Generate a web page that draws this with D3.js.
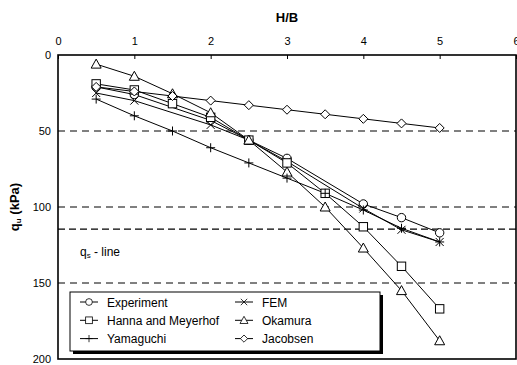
<!DOCTYPE html>
<html>
<head>
<meta charset="utf-8">
<script src="https://cdn.jsdelivr.net/npm/d3@7"></script>
<style>
  body { margin: 0; background: #fff; }
  svg { font-family: "Liberation Sans", Arial, sans-serif; }
  .mark { fill: #fff; stroke: #000; stroke-width: 1; }
  .series { fill: none; stroke: #000; stroke-width: 1; }
</style>
</head>
<body>
<svg width="517" height="365"></svg>
<script>
// H/B values and qu (kPa) for each method
const xExperiment = [0.5, 1, 2, 2.5, 3, 4, 4.5, 5];
const experiment = [21, 26, 43, 56, 68, 98, 107, 117];
const xFem = [0.5, 1, 2, 2.5, 3, 4, 4.5, 5];
const fem = [25, 30, 46, 56, 70, 101, 115, 123];
const xAll = [0.5, 1, 1.5, 2, 2.5, 3, 3.5, 4, 4.5, 5];
const hanna = [19, 23, 32, 41, 56, 71, 91, 113, 139, 167];
const okamura = [6, 14, 25.5, 38, 56, 77, 100, 127, 155, 188];
const yamaguchi = [29, 40, 50, 61, 71, 81, 91, 102, 114, 123];
const jacobsen = [21, 24, 27, 30, 33, 36, 39, 42, 45, 48];

const xTicks = [0, 1, 2, 3, 4, 5, 6];
const yTicks = [0, 50, 100, 150, 200];
const gridLines = [50, 100, 150];
const qsLine = 114.5;

const series = [
  { name: "Experiment", xs: xExperiment, ys: experiment, sym: "circle" },
  { name: "FEM", xs: xFem, ys: fem, sym: "x" },
  { name: "Hanna and Meyerhof", xs: xAll, ys: hanna, sym: "square" },
  { name: "Okamura", xs: xAll, ys: okamura, sym: "triangle" },
  { name: "Yamaguchi", xs: xAll, ys: yamaguchi, sym: "plus" },
  { name: "Jacobsen", xs: xAll, ys: jacobsen, sym: "diamond" }
];

const svg = d3.select("svg");
const plotLeft = 58, plotRight = 516, plotTop = 55, plotBottom = 359;

const x = d3.scaleLinear().domain([0, 6]).range([plotLeft, plotRight]);
const y = d3.scaleLinear().domain([0, 200]).range([plotTop, plotBottom]);

// dashed reference lines
svg.selectAll("line.grid")
  .data(gridLines)
  .enter()
  .append("line")
  .attr("x1", plotLeft).attr("x2", plotRight)
  .attr("y1", d => y(d)).attr("y2", d => y(d))
  .attr("stroke", "#000")
  .attr("stroke-dasharray", "7,5");

svg.append("line")
  .attr("x1", plotLeft).attr("x2", plotRight)
  .attr("y1", y(qsLine)).attr("y2", y(qsLine))
  .attr("stroke", "#000")
  .attr("stroke-width", 1.2)
  .attr("stroke-dasharray", "7,4");

const qsText = svg.append("text")
  .attr("x", 80).attr("y", 256)
  .attr("font-size", 12);
qsText.append("tspan").text("q");
qsText.append("tspan").attr("font-size", 8).attr("dy", 2).text("s");
qsText.append("tspan").attr("dy", -2).text(" - line");

// top axis
const xAxis = svg.append("g")
  .attr("transform", `translate(0,${plotTop})`)
  .call(d3.axisTop(x).tickValues(xTicks).tickFormat(d3.format("d"))
    .tickSizeInner(-4).tickSizeOuter(0).tickPadding(10));
xAxis.select(".domain").remove();
xAxis.selectAll("text").attr("font-size", 11).attr("font-family", null);

const yAxis = svg.append("g")
  .attr("transform", `translate(${plotLeft},0)`)
  .call(d3.axisLeft(y).tickValues(yTicks).tickSize(0).tickPadding(7));
yAxis.select(".domain").remove();
yAxis.selectAll("text").attr("font-size", 11).attr("font-family", null);

// series lines
const line = d3.line().x(d => x(d[0])).y(d => y(d[1]));
series.forEach(s => {
  const pts = s.xs.map((v, i) => [v, s.ys[i]]);
  svg.append("path").datum(pts).attr("class", "series").attr("d", line);
});

function drawSymbol(g, sym) {
  if (sym === "circle") {
    g.append("circle").attr("class", "mark").attr("r", 4.2);
  } else if (sym === "square") {
    g.append("rect").attr("class", "mark").attr("x", -4.2).attr("y", -4.2).attr("width", 8.4).attr("height", 8.4);
  } else if (sym === "triangle") {
    g.append("path").attr("class", "mark").attr("d", "M0,-5L5,4L-5,4Z");
  } else if (sym === "diamond") {
    g.append("path").attr("class", "mark").attr("d", "M0,-4.5L4.5,0L0,4.5L-4.5,0Z");
  } else if (sym === "plus") {
    g.append("path").attr("class", "mark").attr("d", "M-4.5,0H4.5M0,-4.5V4.5");
  } else if (sym === "x") {
    g.append("path").attr("class", "mark").attr("d", "M-4,-4L4,4M-4,4L4,-4");
  }
}

series.forEach(s => {
  s.xs.forEach((v, i) => {
    const g = svg.append("g").attr("transform", `translate(${x(v)},${y(s.ys[i])})`);
    drawSymbol(g, s.sym);
  });
});

// plot frame
svg.append("rect")
  .attr("x", plotLeft).attr("y", plotTop)
  .attr("width", plotRight - plotLeft).attr("height", plotBottom - plotTop)
  .attr("fill", "none").attr("stroke", "#000").attr("stroke-width", 1.6);

// legend
const lg = svg.append("g");
lg.append("rect").attr("x", 73).attr("y", 295).attr("width", 310).attr("height", 59).attr("fill", "#000");
lg.append("rect").attr("x", 70).attr("y", 292).attr("width", 310).attr("height", 59)
  .attr("fill", "#fff").attr("stroke", "#000").attr("stroke-width", 1);

const legendOrder = ["Experiment", "FEM", "Hanna and Meyerhof", "Okamura", "Yamaguchi", "Jacobsen"];
legendOrder.forEach((name, i) => {
  const s = series.find(d => d.name === name);
  const col = i % 2, row = Math.floor(i / 2);
  const x0 = col === 0 ? 80 : 235;
  const yy = 302 + row * 18.3;
  lg.append("line").attr("x1", x0).attr("x2", x0 + 18).attr("y1", yy).attr("y2", yy).attr("stroke", "#000");
  const g = lg.append("g").attr("transform", `translate(${x0 + 9},${yy}) scale(0.8)`);
  drawSymbol(g, s.sym);
  lg.append("text").attr("x", x0 + 27).attr("y", yy + 4.5).attr("font-size", 12).text(name);
});

// axis titles
svg.append("text")
  .attr("x", (plotLeft + plotRight) / 2).attr("y", 22)
  .attr("text-anchor", "middle")
  .attr("font-size", 13).attr("font-weight", "bold")
  .text("H/B");

const yt = svg.append("text")
  .attr("transform", `translate(19,${(plotTop + plotBottom) / 2}) rotate(-90)`)
  .attr("text-anchor", "middle")
  .attr("font-size", 13).attr("font-weight", "bold");
yt.append("tspan").text("q");
yt.append("tspan").attr("font-size", 8).attr("dy", 2).text("u");
yt.append("tspan").attr("dy", -2).text(" (kPa)");
</script>
</body>
</html>
